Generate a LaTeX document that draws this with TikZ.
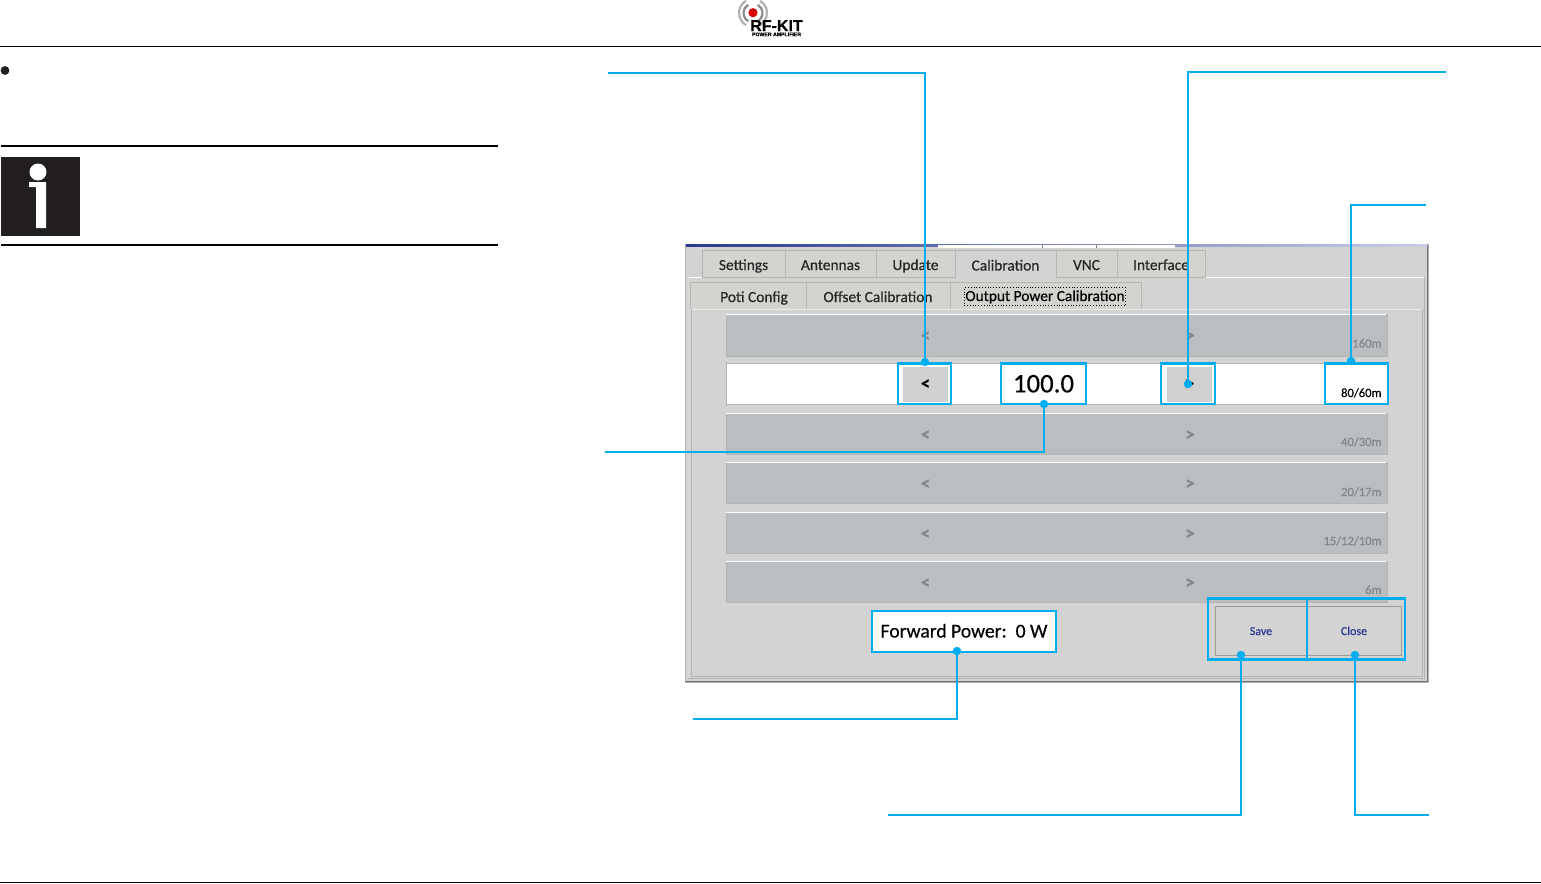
\documentclass[tikz,border=0pt]{standalone}
\usepackage{fontspec}
\setmainfont{Carlito}[FakeBold=0.4]
\newfontfamily\logofont{Liberation Sans}[BoldFeatures={FakeBold=0.6}]
\newcommand{\pxbox}[7]{%
  \pgfmathsetmacro{\bw}{(#4-#2)*0.5}\pgfmathsetmacro{\bh}{(#5-#3)*0.5}%
  \pgfmathsetmacro{\bx}{(#2+#4)/2}\pgfmathsetmacro{\by}{(#3+#5)/2}%
  \node[#6,minimum width=\bw pt,minimum height=\bh pt] (#1) at (\bx,\by) {#7};}
\tikzset{
  rule/.style={draw=black,line width=1pt},
  thinrule/.style={draw=black,line width=0.5pt},
  tabbox/.style={rectangle,inner sep=0pt,outer sep=0pt,fill=uitab,draw=uitabedge,line width=0.4pt,font=\fontsize{7.7}{8}\selectfont,text=black!85,text height=8pt,text depth=1.5pt},
  rowbox/.style={rectangle,inner sep=0pt,outer sep=0pt,fill=uirow,draw=uiedge,line width=0.3pt},
  whiterow/.style={rowbox,fill=white},
  graybtn/.style={rectangle,inner sep=0pt,outer sep=0pt,fill=uibtn},
  btnbox/.style={rectangle,inner sep=0pt,outer sep=0pt,draw=uibtnedge,line width=0.4pt,fill=uibg},
  hl/.style={rectangle,inner sep=0pt,outer sep=0pt,draw=callout,line width=1.1pt},
  hlw/.style={hl,fill=white},
  dot/.style={circle,fill=callout,inner sep=0pt,minimum size=4.2pt},
  leader/.style={draw=callout,line width=1.1pt},
  arrowdim/.style={font=\fontsize{9.5}{9}\bfseries\selectfont,text=uidim,inner sep=0pt},
  arrowblk/.style={graybtn,font=\fontsize{9.5}{9}\bfseries\selectfont,text=black},
  banddim/.style={font=\fontsize{6.3}{7}\selectfont,text=uidim,anchor=base east,inner sep=0pt},
  bluetxt/.style={font=\fontsize{6}{7}\selectfont,text=uiblue},
}
\definecolor{callout}{HTML}{00AEEF}
\definecolor{uibg}{HTML}{D3D3D3}
\definecolor{uitab}{HTML}{D2D4CF}
\definecolor{uitabedge}{HTML}{B4B6B1}
\definecolor{uiedge}{HTML}{B3B5B2}
\definecolor{uirow}{HTML}{BBBEC0}
\definecolor{uibtn}{HTML}{D0D0D0}
\definecolor{uibtnedge}{HTML}{9A9D98}
\definecolor{uidim}{HTML}{84878A}
\definecolor{uiblue}{HTML}{2B3990}
\definecolor{infobk}{HTML}{231F20}
\begin{document}
\begin{tikzpicture}[x=0.5pt,y=-0.5pt]
\useasboundingbox (0,0) rectangle (1541,883);
% page furniture
\draw[thinrule] (0,46.5) -- (1541,46.5);
\draw[thinrule] (0,882) -- (1541,882);
% logo
\foreach \r/\g in {9.5/45,14/30}{
  \draw[black!\g,line width=1.1pt] (753,13)+(120:\r) arc[start angle=120,end angle=240,radius=\r];
  \draw[black!\g,line width=1.1pt] (753,13)+(60:\r) arc[start angle=60,end angle=-60,radius=\r];
}
\fill[red!85!black] (753,12.7) circle (4.6);
\node[font=\fontsize{8}{8}\logofont\bfseries\selectfont,inner sep=0pt,text height=5.2pt,text depth=0pt] (logo) at (776.5,26) {RF-KIT};
\node[font=\fontsize{2.6}{3}\logofont\bfseries\selectfont,inner sep=0pt,text height=1.7pt,text depth=0pt] (logosub) at (776.5,34.5) {POWER AMPLIFIER};
% left column
\fill[infobk] (5,70.5) circle (4.4);
\draw[rule] (1,145.5) -- (498,145.5);
\draw[rule] (1,244.5) -- (498,244.5);
\fill[infobk] (1,157) rectangle (80,236);
\fill[white] (38,172) circle (8.5);
\fill[white] (29,182) -- (46,182) -- (46,228) -- (36,228) -- (36,187) -- (29,187) -- cycle;
% window
\pxbox{win}{685}{244}{1428}{682}{rectangle,inner sep=0pt,fill=uibg,draw=black!30,line width=0.5pt}{}
\draw[black!55,line width=0.6pt] (1427.5,245) -- (1427.5,681.5) -- (685,681.5);
\shade[left color=uiblue,right color=uiblue!25!white] (686,244) rectangle (1427,246);
\fill[white] (938,244.5) rectangle (1175,248);
\draw[black!50,line width=0.3pt] (1042,245) -- (1042,248) (1096,245) -- (1096,248);
\draw[white,line width=0.4pt] (689,277) -- (1424,277);
\draw[uiedge,line width=0.5pt] (688,678) -- (1424,678) -- (1424,277);
\draw[white!85!black,line width=0.5pt] (688,277) -- (688,678);
% top tabs
\pxbox{tSet}{702}{250}{785}{277}{tabbox}{Settings}
\pxbox{tAnt}{785}{250}{876}{277}{tabbox}{Antennas}
\pxbox{tUpd}{876}{250}{955}{277}{tabbox}{Update}
\pxbox{tCal}{955}{250}{1056}{278}{tabbox,fill=uibg,draw=uibg}{Calibration}
\draw[uitabedge,line width=0.4pt] (tCal.south west) -- (tCal.north west) -- (tCal.north east) -- (tCal.south east);
\pxbox{tVnc}{1056}{250}{1117}{277}{tabbox}{VNC}
\pxbox{tInt}{1117}{250}{1205}{277}{tabbox}{Interface}
% sub tabs
\pxbox{sPot}{690}{282}{806}{309}{tabbox}{\hspace*{6pt}Poti Config}
\pxbox{sOff}{806}{282}{950}{309}{tabbox}{Offset Calibration}
\pxbox{sOut}{950}{282}{1141}{309}{tabbox}{}
\node[draw=black,densely dotted,line width=0.4pt,inner sep=0.6pt,font=\fontsize{7.7}{8}\selectfont,text height=6pt,text depth=1.5pt] (sOutLbl) at (1045,296.5) {Output Power Calibration};
\draw[white!92!black,line width=0.4pt] (690,309) -- (1423,309);
\draw[uiedge,line width=0.4pt] (691,309) -- (691,676) -- (1422,676) -- (1422,309);
% rows
\pxbox{r1}{726}{314}{1387}{356}{rowbox}{}
\pxbox{r2}{726}{363}{1387}{404.5}{whiterow}{}
\pxbox{r3}{726}{413}{1387}{454}{rowbox}{}
\pxbox{r4}{726}{462}{1387}{503}{rowbox}{}
\pxbox{r5}{726}{512}{1387}{553}{rowbox}{}
\pxbox{r6}{726}{561}{1387}{602}{rowbox}{}
\foreach \y in {314,413,462,512,561}{\draw[white,line width=0.4pt] (726,\y) -- (1386,\y);}
\foreach \n/\y in {a/336.5,c/435.5,d/484.5,e/534.5,f/583.5}{
  \node[arrowdim] (lt\n) at (925.5,\y) {<};
  \node[arrowdim] (gt\n) at (1190,\y) {>};
}
\node[banddim] (l1) at (1382,347.5) {160m};
\node[banddim] (l3) at (1382,446) {40/30m};
\node[banddim] (l4) at (1382,496) {20/17m};
\node[banddim] (l5) at (1382,545) {15/12/10m};
\node[banddim] (l6) at (1382,594) {6m};
% active row
\pxbox{bL}{903}{367}{948}{402}{arrowblk}{<}
\pxbox{bR}{1167}{367}{1212}{402}{arrowblk}{>}
\node[banddim,text=black] (l2) at (1382,397) {80/60m};
% buttons
\pxbox{bSave}{1215}{606}{1307}{655}{btnbox,bluetxt,text height=5pt,text depth=0.5pt}{Save}
\pxbox{bClose}{1307}{606}{1401}{655}{btnbox,bluetxt,text height=5pt,text depth=0.5pt}{Close}
% highlight boxes
\pxbox{hL}{898}{363.5}{951}{404}{hl}{}
\pxbox{hV}{1001}{363.5}{1086}{404}{hlw,font=\fontsize{13.4}{14}\selectfont}{100.0}
\pxbox{hR}{1161}{363.5}{1215}{404}{hl}{}
\pxbox{hB}{1325}{363.5}{1388}{404}{hl}{}
\pxbox{hF}{872}{611}{1056}{652}{hlw,font=\fontsize{9.8}{10}\selectfont,text height=6pt,text depth=0pt}{Forward Power:\ \ 0 W}
\pxbox{hS}{1208}{598.5}{1307}{659.5}{hl}{}
\pxbox{hC}{1307}{598.5}{1405}{659.5}{hl}{}
% leader ends
\node[dot] (dL) at (925,362) {};
\node[dot] (dR) at (1188,384) {};
\node[dot] (dB) at (1351,361) {};
\node[dot] (dV) at (1044,404) {};
\node[dot] (dF) at (957,651) {};
\node[dot] (dS) at (1241,655) {};
\node[dot] (dC) at (1355,655) {};
\coordinate (eL) at (608,73);
\coordinate (eR) at (1446,72);
\coordinate (eB) at (1426,205);
\coordinate (eV) at (605,452);
\coordinate (eF) at (693,719);
\coordinate (eS) at (888,815);
\coordinate (eC) at (1429,815);
\draw[leader] (dL.center) |- (eL);
\draw[leader] (dR.center) |- (eR);
\draw[leader] (dB.center) |- (eB);
\draw[leader] (dV.center) |- (eV);
\draw[leader] (dF.center) |- (eF);
\draw[leader] (dS.center) |- (eS);
\draw[leader] (dC.center) |- (eC);
\end{tikzpicture}
\end{document}
